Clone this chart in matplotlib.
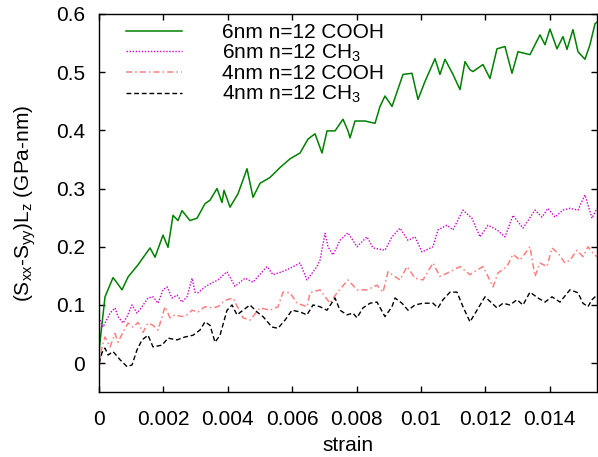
import matplotlib
matplotlib.use("Agg")
import matplotlib.pyplot as plt

plt.rcParams['font.family'] = ['Liberation Sans', 'DejaVu Sans']
plt.rcParams['mathtext.fontset'] = 'custom'
plt.rcParams['mathtext.rm'] = 'Liberation Sans'
plt.rcParams['mathtext.it'] = 'Liberation Sans'
plt.rcParams['mathtext.default'] = 'regular'

# 6nm n=12 COOH
strain_g = [0, 0.000031, 0.000186, 0.000435, 0.000559, 0.000714, 0.000901, 0.001211,
            0.001584, 0.001739, 0.001988, 0.002143, 0.002298, 0.002454, 0.002578, 0.002826,
            0.003044, 0.003292, 0.003448, 0.003665, 0.00382, 0.003883, 0.004069, 0.004317,
            0.004597, 0.004783, 0.005001, 0.005311, 0.005622, 0.005932, 0.006243, 0.006492,
            0.006709, 0.006926, 0.007082, 0.00733, 0.007579, 0.007734, 0.007796, 0.007951,
            0.008262, 0.008573, 0.008728, 0.008883, 0.009101, 0.009442, 0.009722, 0.009908,
            0.010126, 0.010436, 0.010591, 0.010747, 0.010995, 0.011213, 0.011368, 0.011523,
            0.011616, 0.011927, 0.012144, 0.012362, 0.01261, 0.012828, 0.013014, 0.013387,
            0.013697, 0.013853, 0.014008, 0.014225, 0.014412, 0.014536, 0.014722, 0.014878,
            0.015095, 0.01525, 0.015406, 0.015468]
val_g = [0.02, 0.037, 0.114, 0.147, 0.138, 0.126, 0.148, 0.169,
         0.198, 0.182, 0.22, 0.199, 0.254, 0.245, 0.262, 0.245,
         0.249, 0.274, 0.28, 0.30, 0.276, 0.297, 0.268, 0.291,
         0.334, 0.285, 0.309, 0.319, 0.336, 0.351, 0.361, 0.385,
         0.394, 0.361, 0.399, 0.399, 0.419, 0.399, 0.387, 0.416,
         0.416, 0.412, 0.441, 0.459, 0.441, 0.496, 0.498, 0.453,
         0.484, 0.523, 0.496, 0.522, 0.496, 0.47, 0.518, 0.504,
         0.501, 0.513, 0.489, 0.54, 0.544, 0.498, 0.535, 0.53,
         0.564, 0.547, 0.574, 0.54, 0.561, 0.539, 0.573, 0.535,
         0.522, 0.547, 0.583, 0.586]

# 6nm n=12 CH3
strain_m = [0.000031, 0.000124, 0.000342, 0.000497, 0.00059, 0.000745, 0.00087, 0.001025,
            0.00118, 0.001336, 0.001522, 0.001677, 0.001833, 0.001988, 0.002112, 0.002267,
            0.002423, 0.002578, 0.002733, 0.002889, 0.002982, 0.003075, 0.003292, 0.00351,
            0.003696, 0.003851, 0.003976, 0.004224, 0.004535, 0.004783, 0.004939, 0.005218,
            0.005404, 0.005684, 0.005932, 0.006243, 0.00646, 0.006771, 0.006864, 0.00702,
            0.007113, 0.007268, 0.007485, 0.007734, 0.008013, 0.008324, 0.00851, 0.008883,
            0.009101, 0.009349, 0.009598, 0.009815, 0.010032, 0.010374, 0.010529, 0.010809,
            0.010995, 0.011306, 0.011585, 0.011834, 0.012082, 0.012362, 0.01261, 0.012859,
            0.013169, 0.013542, 0.01376, 0.013946, 0.014163, 0.014412, 0.014629, 0.014878,
            0.015095, 0.015313, 0.015468]
val_m = [0.074, 0.062, 0.086, 0.095, 0.08, 0.069, 0.08, 0.10,
         0.086, 0.097, 0.112, 0.114, 0.103, 0.126, 0.131, 0.112,
         0.117, 0.105, 0.114, 0.146, 0.122, 0.121, 0.131, 0.138,
         0.143, 0.151, 0.157, 0.132, 0.146, 0.139, 0.149, 0.166,
         0.152, 0.157, 0.163, 0.172, 0.143, 0.166, 0.177, 0.223,
         0.20, 0.186, 0.211, 0.224, 0.20, 0.217, 0.198, 0.194,
         0.217, 0.232, 0.211, 0.217, 0.191, 0.20, 0.229, 0.237,
         0.229, 0.263, 0.249, 0.217, 0.237, 0.229, 0.217, 0.254,
         0.232, 0.263, 0.251, 0.266, 0.251, 0.263, 0.266, 0.263,
         0.289, 0.249, 0.266]

# 4nm n=12 COOH
strain_p = [0, 0.000093, 0.000186, 0.000342, 0.000497, 0.00059, 0.000745, 0.000901,
            0.001056, 0.001211, 0.001367, 0.001522, 0.001677, 0.001833, 0.00205, 0.002205,
            0.002361, 0.002578, 0.002733, 0.002889, 0.003075, 0.003292, 0.00351, 0.003696,
            0.003851, 0.003976, 0.004162, 0.004473, 0.00469, 0.005001, 0.005311, 0.00556,
            0.005715, 0.005932, 0.00615, 0.00646, 0.006554, 0.006864, 0.007175, 0.007392,
            0.007734, 0.008013, 0.008324, 0.008635, 0.008821, 0.008976, 0.009349, 0.009566,
            0.009815, 0.010063, 0.010374, 0.010591, 0.010902, 0.011213, 0.011523, 0.011741,
            0.011927, 0.012082, 0.012238, 0.012393, 0.012672, 0.012859, 0.013076, 0.013387,
            0.013542, 0.013697, 0.013915, 0.01407, 0.014257, 0.014474, 0.014629, 0.014847,
            0.015033, 0.015188, 0.015344, 0.015468]
val_p = [-0.006, 0.028, 0.045, 0.028, 0.051, 0.036, 0.053, 0.069,
         0.062, 0.070, 0.053, 0.069, 0.065, 0.057, 0.097, 0.078,
         0.083, 0.080, 0.083, 0.091, 0.088, 0.097, 0.095, 0.097,
         0.105, 0.109, 0.112, 0.078, 0.074, 0.095, 0.091, 0.097,
         0.122, 0.121, 0.103, 0.097, 0.121, 0.126, 0.103, 0.121,
         0.143, 0.126, 0.126, 0.134, 0.122, 0.157, 0.143, 0.166,
         0.146, 0.143, 0.172, 0.149, 0.157, 0.166, 0.152, 0.160,
         0.166, 0.149, 0.131, 0.155, 0.166, 0.187, 0.177, 0.20,
         0.149, 0.172, 0.166, 0.198, 0.189, 0.172, 0.177, 0.194,
         0.183, 0.20, 0.189, 0.183]

# 4nm n=12 CH3
strain_k = [0, 0.000093, 0.000186, 0.00028, 0.000435, 0.000652, 0.00087, 0.001025,
            0.00118, 0.001336, 0.001522, 0.001677, 0.001957, 0.002143, 0.002423, 0.002671,
            0.00292, 0.003137, 0.003292, 0.003448, 0.003603, 0.003758, 0.003976, 0.004131,
            0.004286, 0.004473, 0.00469, 0.004907, 0.005094, 0.005373, 0.00556, 0.005777,
            0.005995, 0.006243, 0.00646, 0.006647, 0.006864, 0.007082, 0.00733, 0.007485,
            0.007703, 0.007889, 0.008013, 0.0082, 0.008417, 0.008635, 0.008883, 0.009101,
            0.009194, 0.009411, 0.009598, 0.009815, 0.010063, 0.010374, 0.010529, 0.010685,
            0.010902, 0.011119, 0.011306, 0.011523, 0.011741, 0.011989, 0.012207, 0.012362,
            0.012548, 0.012766, 0.012983, 0.013169, 0.013387, 0.013635, 0.013853, 0.01407,
            0.014319, 0.014629, 0.014878, 0.015033, 0.015188, 0.015313, 0.015468]
val_k = [0.0, 0.018, 0.026, 0.014, 0.020, 0.006, -0.006, -0.003,
         0.023, 0.040, 0.048, 0.028, 0.031, 0.043, 0.040, 0.045,
         0.048, 0.057, 0.071, 0.065, 0.036, 0.048, 0.091, 0.100,
         0.083, 0.091, 0.100, 0.088, 0.080, 0.062, 0.060, 0.074,
         0.091, 0.088, 0.083, 0.100, 0.097, 0.091, 0.112, 0.091,
         0.083, 0.086, 0.078, 0.095, 0.103, 0.105, 0.080, 0.097,
         0.112, 0.103, 0.091, 0.100, 0.103, 0.103, 0.095, 0.109,
         0.122, 0.122, 0.097, 0.071, 0.091, 0.114, 0.103, 0.095,
         0.103, 0.100, 0.109, 0.100, 0.122, 0.112, 0.105, 0.114,
         0.105, 0.126, 0.121, 0.103, 0.097, 0.109, 0.117]

labels = ['6nm n=12 COOH', '6nm n=12 CH$_3$', '4nm n=12 COOH', '4nm n=12 CH$_3$']
xticks = [0, 0.002, 0.004, 0.006, 0.008, 0.010, 0.012, 0.014]
xticklabels = ['0', '0.002', '0.004', '0.006', '0.008', '0.01', '0.012', '0.014']
yticks = [0, 0.1, 0.2, 0.3, 0.4, 0.5, 0.6]
yticklabels = ['0', '0.1', '0.2', '0.3', '0.4', '0.5', '0.6']

fs = 15

fig = plt.figure(figsize=(5.98, 4.57), dpi=100)
ax = fig.add_axes([0.1656, 0.1416, 0.8328, 0.828])

ax.plot(strain_g, val_g, color='#008000', lw=1.1, ls='-', label=labels[0])
ax.plot(strain_m, val_m, color='#cc00cc', lw=1.0, ls=(0, (1, 1.2)), label=labels[1])
ax.plot(strain_p, val_p, color='#ff7f7f', lw=1.1, ls=(0, (4, 2, 1, 2)), label=labels[2])
ax.plot(strain_k, val_k, color='black', lw=1.0, ls=(0, (3.5, 2)), label=labels[3])

ax.set_xlim(0, 0.01547)
ax.set_ylim(-0.05, 0.6)
ax.set_xticks(xticks)
ax.set_xticklabels(xticklabels)
ax.set_yticks(yticks)
ax.set_yticklabels(yticklabels)
ax.tick_params(direction='in', length=4.5, width=1, top=True, right=True,
               labelsize=fs)
ax.tick_params(axis='y', pad=10)
ax.tick_params(axis='x', pad=13)
for s in ax.spines.values():
    s.set_linewidth(1.0)

ax.set_xlabel('strain', fontsize=fs, labelpad=5)
ax.set_ylabel('(S$_{xx}$-S$_{yy}$)L$_z$ (GPa-nm)', fontsize=fs, labelpad=13)

ax.legend(loc='upper left', bbox_to_anchor=(0.054, 0.975), frameon=False, fontsize=fs,
          handlelength=2.7, handletextpad=1.9, labelspacing=0.02, borderpad=0,
          borderaxespad=0)

fig.savefig('out.png', dpi=100)
